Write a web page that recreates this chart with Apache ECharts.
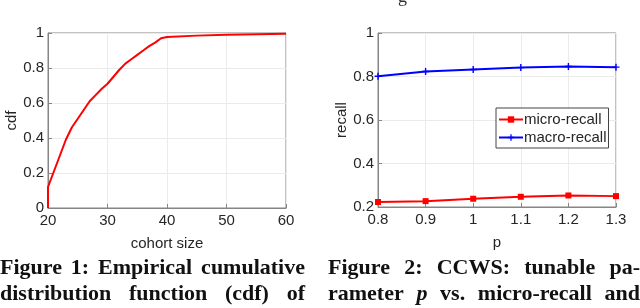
<!DOCTYPE html>
<html><head><meta charset="utf-8">
<script src="https://cdn.jsdelivr.net/npm/echarts@6/dist/echarts.min.js"></script>
<style>html,body{margin:0;padding:0;background:#fff}#c{width:640px;height:308px}</style>
</head><body><div id="c"></div>
<script>
// ---- Data ----
const cohortSize = [20, 20, 21, 22, 23, 24, 25, 26, 27, 28, 29, 30, 31, 32, 33, 34, 35, 36, 37, 38, 39, 40, 45, 50, 55, 60];
const cdfValues  = [0, 0.12, 0.21, 0.30, 0.39, 0.46, 0.51, 0.56, 0.61, 0.645, 0.68, 0.71, 0.75, 0.79, 0.825, 0.85, 0.875, 0.90, 0.925, 0.945, 0.97, 0.977, 0.985, 0.99, 0.993, 0.996];
const pValues     = [0.8, 0.9, 1.0, 1.1, 1.2, 1.3];
const microRecall = [0.223, 0.227, 0.238, 0.247, 0.253, 0.250];
const macroRecall = [0.801, 0.823, 0.832, 0.841, 0.846, 0.843];
const seriesNames = ['micro-recall', 'macro-recall'];
const axisNames = { leftX: 'cohort size', leftY: 'cdf', rightX: 'p', rightY: 'recall' };
const captionLeft = [
  [['Figure', 'b'], ['1:', 'b'], ['Empirical', 'b'], ['cumulative', 'b']],
  [['distribution', 'b'], ['function', 'b'], ['(cdf)', 'b'], ['of', 'b']]
];
const captionRight = [
  [['Figure', 'b'], ['2:', 'b'], ['CCWS:', 'b'], ['tunable', 'b'], ['pa-', 'b']],
  [['rameter', 'b'], ['p', 'bi'], ['vs.', 'b'], ['micro-recall', 'b'], ['and', 'b']]
];

const chart = echarts.init(document.getElementById('c'), null, { renderer: 'canvas' });
const txt = '#262626', axisC = '#858585', gridC = '#ebebeb';
const FS = 15, SANS = 'Liberation Sans, Arial, sans-serif';
const SERIF = '"Liberation Serif", "Times New Roman", serif';
const CAP_FS = 22;

function axisCommon() {
  return {
    axisLine: { show: true, lineStyle: { color: axisC, width: 1 } },
    axisTick: { show: true, inside: true, length: 4, lineStyle: { color: axisC } },
    splitLine: { show: true, lineStyle: { color: gridC, width: 1 } },
    axisLabel: { color: txt, fontSize: FS, fontFamily: SANS },
    nameTextStyle: { color: txt, fontSize: FS, fontFamily: SANS },
    nameLocation: 'middle'
  };
}

// caption layout with justified words
const ctx = document.createElement('canvas').getContext('2d');
function fontOf(st) {
  return (st.indexOf('i') >= 0 ? 'italic ' : '') + 'bold ' + CAP_FS + 'px ' + SERIF;
}
function captionElems(lines, x0, x1, tops) {
  const out = [];
  lines.forEach((words, li) => {
    const widths = words.map(w => { ctx.font = fontOf(w[1]); return ctx.measureText(w[0]).width; });
    const total = widths.reduce((a, b) => a + b, 0);
    const gap = (x1 - x0 - total) / (words.length - 1);
    let x = x0;
    words.forEach((w, i) => {
      out.push({
        type: 'text', x: x, y: tops[li],
        style: { text: w[0], font: fontOf(w[1]), fill: '#111', verticalAlign: 'top' }
      });
      x += widths[i] + gap;
    });
  });
  return out;
}

const plusPath = 'path://M4,0h2v4h4v2h-4v4h-2v-4h-4v-2h4z';

const option = {
  animation: false,
  backgroundColor: '#fff',
  grid: [
    { left: 48, right: 354, top: 33, bottom: 100, show: true, borderColor: axisC, borderWidth: 1, backgroundColor: 'transparent' },
    { left: 378, right: 24, top: 33, bottom: 101, show: true, borderColor: axisC, borderWidth: 1, backgroundColor: 'transparent' }
  ],
  xAxis: [
    Object.assign(axisCommon(), { gridIndex: 0, type: 'value', min: 20, max: 60, interval: 10, name: axisNames.leftX, nameGap: 28,
      axisLabel: { color: txt, fontSize: FS, fontFamily: SANS, margin: 5 } }),
    Object.assign(axisCommon(), { gridIndex: 1, type: 'value', min: 0.8, max: 1.3, interval: 0.1, name: axisNames.rightX, nameGap: 28,
      axisLabel: { color: txt, fontSize: FS, fontFamily: SANS, margin: 5 } })
  ],
  yAxis: [
    Object.assign(axisCommon(), { gridIndex: 0, type: 'value', min: 0, max: 1, interval: 0.2, name: axisNames.leftY, nameGap: 27,
      axisLabel: { color: txt, fontSize: FS, fontFamily: SANS, margin: 4 } }),
    Object.assign(axisCommon(), { gridIndex: 1, type: 'value', min: 0.2, max: 1, interval: 0.2, name: axisNames.rightY, nameGap: 29,
      axisLabel: { color: txt, fontSize: FS, fontFamily: SANS, margin: 4 } })
  ],
  legend: {
    data: seriesNames,
    orient: 'vertical', left: 496, top: 108,
    backgroundColor: '#fff', borderColor: '#444', borderWidth: 1,
    padding: [4, 2, 3, 2], itemGap: 3, itemWidth: 24, itemHeight: 8,
    textStyle: { color: txt, fontSize: FS, fontFamily: SANS, padding: [0, 0, 0, -4] }
  },
  series: [
    { type: 'line', xAxisIndex: 0, yAxisIndex: 0, showSymbol: false, symbol: 'none',
      data: cohortSize.map((x, i) => [x, cdfValues[i]]),
      lineStyle: { color: '#ff0000', width: 2 }, itemStyle: { color: '#ff0000' } },
    { type: 'line', name: seriesNames[0], xAxisIndex: 1, yAxisIndex: 1,
      data: pValues.map((x, i) => [x, microRecall[i]]),
      symbol: 'rect', symbolSize: 6,
      lineStyle: { color: '#ff0000', width: 2 }, itemStyle: { color: '#ff0000' } },
    { type: 'line', name: seriesNames[1], xAxisIndex: 1, yAxisIndex: 1,
      data: pValues.map((x, i) => [x, macroRecall[i]]),
      symbol: plusPath, symbolSize: 7,
      lineStyle: { color: '#0000ff', width: 2 }, itemStyle: { color: '#0000ff' } }
  ],
  graphic: [
    { type: 'text', x: 398, y: -12, style: { text: 'g', font: '18px ' + SERIF, fill: '#333', verticalAlign: 'top' } }
  ].concat(captionElems(captionLeft, 0, 305, [257, 283]))
   .concat(captionElems(captionRight, 328, 640, [257, 283]))
};
chart.setOption(option);
</script>
</body></html>
